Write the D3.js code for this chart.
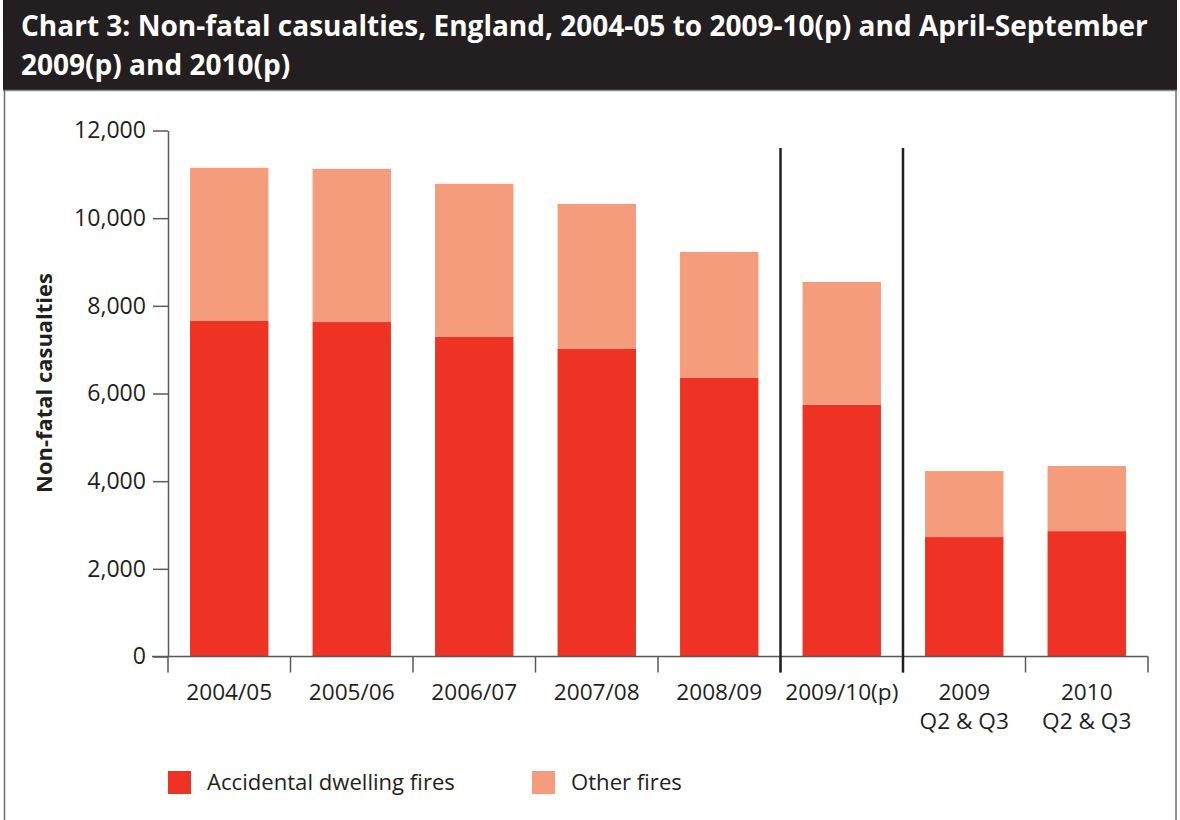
<!DOCTYPE html>
<html>
<head>
<meta charset="utf-8">
<script src="https://cdn.jsdelivr.net/npm/d3@7"></script>
<style>
  body { margin: 0; background: #fff; }
  text { font-family: "Open Sans", "Noto Sans", sans-serif; fill: #231f20; }
</style>
</head>
<body>
<script>
// ---- data ----
const categories = ["2004/05", "2005/06", "2006/07", "2007/08", "2008/09", "2009/10(p)", "2009|Q2 & Q3", "2010|Q2 & Q3"];
const accidentalDwelling = [7655, 7630, 7290, 7015, 6355, 5740, 2725, 2860];
const otherFires = [3495, 3495, 3495, 3310, 2875, 2805, 1505, 1485];
const yTicks = [0, 2000, 4000, 6000, 8000, 10000, 12000];
const seriesNames = ["Accidental dwelling fires", "Other fires"];
const seriesColors = ["#EE3224", "#F59C7C"];
const separatorAfter = [5, 6]; // boundaries (index of band start) with vertical divider
const titleLines = ["Chart 3: Non-fatal casualties, England, 2004-05 to 2009-10(p) and April-September", "2009(p) and 2010(p)"];
const yTitle = "Non-fatal casualties";

const W = 1180, H = 820;
const svg = d3.select("body").append("svg").attr("width", W).attr("height", H);

function fit(sel, target) {
  const n = sel.node();
  const fs = parseFloat(sel.attr("font-size"));
  const len = n.getComputedTextLength();
  const nf = fs * target / len;
  sel.attr("font-size", nf);
  return nf;
}

// frame
svg.append("rect").attr("x", 3).attr("y", 0).attr("width", 1174).attr("height", 90).attr("fill", "#231f20");
svg.append("line").attr("x1", 3).attr("x2", 1177).attr("y1", 90.5).attr("y2", 90.5).attr("stroke", "#8a8a8c").attr("stroke-width", 1.5);
svg.append("line").attr("x1", 4.5).attr("x2", 4.5).attr("y1", 90).attr("y2", H).attr("stroke", "#6d6e71").attr("stroke-width", 1.5);
svg.append("line").attr("x1", 1176).attr("x2", 1176).attr("y1", 90).attr("y2", H).attr("stroke", "#6d6e71").attr("stroke-width", 1.5);

// title
const t1 = svg.append("text").attr("x", 21).attr("y", 36).attr("font-size", 25).attr("font-weight", 700)
  .style("fill", "#fff").text(titleLines[0]);
const tfs = fit(t1, 1127);
svg.append("text").attr("x", 21).attr("y", 75).attr("font-size", tfs).attr("font-weight", 700)
  .style("fill", "#fff").text(titleLines[1]);

// scales
const x = d3.scaleBand().domain(categories).range([168, 1148]).paddingInner(0.36).paddingOuter(0.18);
const y = d3.scaleLinear().domain([0, 12000]).range([656.5, 130.5]);

// stacked data
const rows = categories.map((c, i) => ({ cat: c, a: accidentalDwelling[i], o: otherFires[i] }));
const stack = d3.stack().keys(["a", "o"])(rows);

svg.append("g").selectAll("g").data(stack).join("g")
  .attr("fill", (d, i) => seriesColors[i])
  .selectAll("rect").data(d => d).join("rect")
  .attr("x", d => x(d.data.cat))
  .attr("width", x.bandwidth())
  .attr("y", d => y(d[1]))
  .attr("height", d => y(d[0]) - y(d[1]));

// y axis
const yAxis = svg.append("g").attr("transform", "translate(168,0)")
  .call(d3.axisLeft(y).tickValues(yTicks).tickFormat(d3.format(",")).tickSize(15).tickSizeOuter(0).tickPadding(7));
yAxis.select(".domain").attr("stroke", "#58595b").attr("stroke-width", 1.5);
yAxis.selectAll(".tick line").attr("stroke", "#58595b").attr("stroke-width", 1.5);
const yLabs = yAxis.selectAll(".tick text").attr("font-family", null).attr("font-size", 22).style("fill", "#231f20");
// fit based on widest label
const lab12 = yLabs.filter(d => d === 12000);
const yfs = fit(lab12, 72);
yLabs.attr("font-size", yfs);

// x axis: baseline line
const step = x.step();
const x0 = x.range()[0];
const boundaries = d3.range(categories.length + 1).map(i => x0 + i * step);
svg.append("line").attr("x1", 152).attr("x2", boundaries[boundaries.length - 1])
  .attr("y1", y(0)).attr("y2", y(0)).attr("stroke", "#58595b").attr("stroke-width", 1.5);
svg.append("g").selectAll("line").data(boundaries).join("line")
  .attr("x1", d => d).attr("x2", d => d).attr("y1", y(0)).attr("y2", y(0) + 16)
  .attr("stroke", "#58595b").attr("stroke-width", 1.5);

// separators
svg.append("g").selectAll("line").data(separatorAfter).join("line")
  .attr("x1", i => boundaries[i]).attr("x2", i => boundaries[i])
  .attr("y1", 148).attr("y2", y(0) + 16)
  .attr("stroke", "#231f20").attr("stroke-width", 2.5);

// x labels
const xl = svg.append("g").selectAll("text").data(categories).join("text")
  .attr("text-anchor", "middle").attr("font-size", 22)
  .attr("transform", d => `translate(${x(d) + x.bandwidth() / 2},700)`);
xl.each(function (d) {
  const parts = d.split("|");
  const s = d3.select(this);
  parts.forEach((p, j) => s.append("tspan").attr("x", 0).attr("dy", j === 0 ? 0 : 29).text(p));
});
// fit font size using first label
const firstLab = xl.filter((d, i) => i === 0);
const xfs = fit(firstLab, 86);
xl.attr("font-size", xfs);

// y title
const yt = svg.append("text").attr("text-anchor", "middle").attr("font-weight", 700).attr("font-size", 20)
  .attr("transform", "translate(52,383) rotate(-90)").text(yTitle);
fit(yt, 220);

// legend
const legX = [168, 532];
const lg = svg.append("g").selectAll("g").data(seriesNames).join("g")
  .attr("transform", (d, i) => `translate(${legX[i]},771)`);
lg.append("rect").attr("width", 23).attr("height", 23).attr("fill", (d, i) => seriesColors[i]);
const lt = lg.append("text").attr("x", 39).attr("y", 19).attr("font-size", 22).text(d => d);
const lfs = fit(lt.filter((d, i) => i === 0), 248);
lt.attr("font-size", lfs);
</script>
</body>
</html>
